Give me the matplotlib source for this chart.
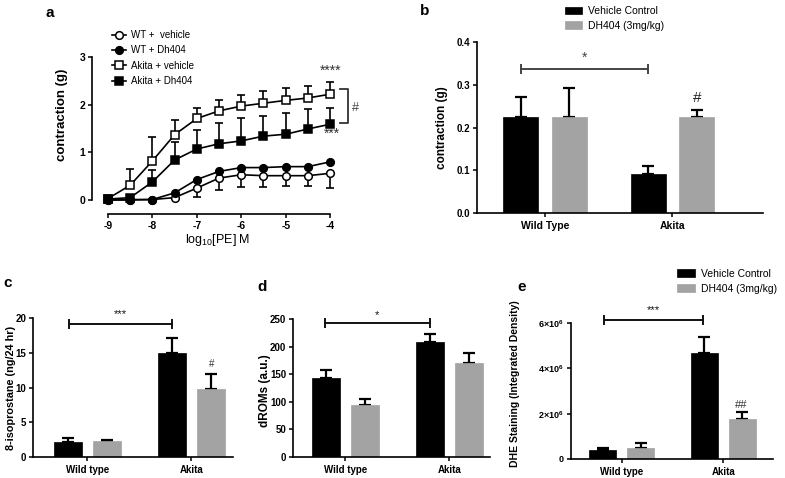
import matplotlib
matplotlib.use("Agg")
import matplotlib.pyplot as plt
import numpy as np

plt.rcParams["font.family"] = ["Liberation Sans", "DejaVu Sans"]
plt.rcParams["axes.unicode_minus"] = False
plt.rcParams["mathtext.fontset"] = "custom"
plt.rcParams["mathtext.rm"] = "Liberation Sans"
plt.rcParams["mathtext.bf"] = "Liberation Sans:bold"

# --- panel a: concentration-response curves ---
log_pe = [-9, -8.5, -8, -7.5, -7, -6.5, -6, -5.5, -5, -4.5, -4]
wt_veh = [0.0, 0.0, 0.01, 0.05, 0.25, 0.46, 0.53, 0.51, 0.51, 0.51, 0.56]
wt_veh_err = [0.0, 0.0, 0.0, 0.02, 0.18, 0.25, 0.26, 0.23, 0.22, 0.22, 0.31]
wt_dh = [0.0, 0.01, 0.01, 0.15, 0.43, 0.6, 0.68, 0.68, 0.7, 0.7, 0.8]
akita_veh = [0.03, 0.31, 0.82, 1.37, 1.71, 1.87, 1.97, 2.03, 2.09, 2.14, 2.22]
akita_veh_err = [0.0, 0.34, 0.5, 0.31, 0.22, 0.23, 0.24, 0.26, 0.25, 0.26, 0.25]
akita_dh = [0.02, 0.05, 0.38, 0.84, 1.07, 1.18, 1.24, 1.34, 1.38, 1.49, 1.59]
akita_dh_err = [0.0, 0.0, 0.24, 0.38, 0.39, 0.43, 0.47, 0.42, 0.44, 0.41, 0.33]

# --- bar panels: [Wild type, Akita] ---
groups_b = ["Wild Type", "Akita"]
groups = ["Wild type", "Akita"]
b_vehicle = [0.225, 0.091]
b_vehicle_err = [0.047, 0.02]
b_dh404 = [0.224, 0.224]
b_dh404_err = [0.068, 0.017]

c_vehicle = [2.17, 14.9]
c_vehicle_err = [0.5, 2.2]
c_dh404 = [2.25, 9.83]
c_dh404_err = [0.25, 2.1]

d_vehicle = [144, 209]
d_vehicle_err = [13, 13]
d_dh404 = [95, 171]
d_dh404_err = [10, 17]

e_vehicle = [0.39e6, 4.68e6]
e_vehicle_err = [0.1e6, 0.7e6]
e_dh404 = [0.48e6, 1.76e6]
e_dh404_err = [0.23e6, 0.3e6]

BLACK = "#000000"
GRAY = "#a3a3a3"
W, H = 785, 478

fig = plt.figure(figsize=(W / 100, H / 100), dpi=100)


def px_axes(left, top, right, bottom):
    return fig.add_axes([left / W, 1 - bottom / H, (right - left) / W, (bottom - top) / H])


def ftext(x, y, s, **kw):
    kw.setdefault("ha", "center")
    kw.setdefault("va", "center")
    fig.text(x / W, 1 - y / H, s, **kw)


def style_axes(ax, fs=7):
    for side in ("top", "right"):
        ax.spines[side].set_visible(False)
    for side in ("left", "bottom"):
        ax.spines[side].set_linewidth(1.2)
    ax.tick_params(width=1.1, length=3, labelsize=fs, pad=2)
    for lab in ax.get_xticklabels() + ax.get_yticklabels():
        lab.set_fontweight("bold")


def bar_panel(ax, names, veh, veh_err, dh, dh_err, off, width, ylim, yticks, ytick_labels=None):
    x = np.arange(len(names))
    ax.bar(x - off, veh, width, color=BLACK, edgecolor=BLACK, linewidth=0.5, zorder=2)
    ax.bar(x + off, dh, width, color=GRAY, edgecolor=GRAY, linewidth=0.5, zorder=2)
    ax.errorbar(x - off, veh, yerr=[np.zeros(len(x)), veh_err], fmt="none", ecolor=BLACK,
                elinewidth=1.6, capsize=4, capthick=1.6, zorder=1)
    ax.errorbar(x + off, dh, yerr=[np.zeros(len(x)), dh_err], fmt="none", ecolor=BLACK,
                elinewidth=1.6, capsize=4, capthick=1.6, zorder=1)
    ax.set_ylim(*ylim)
    ax.set_yticks(yticks)
    if ytick_labels is not None:
        ax.set_yticklabels(ytick_labels)
    ax.set_xticks(x, names)
    style_axes(ax)
    ax.tick_params(axis="x", length=3, pad=3)
    return x


def bracket(ax, x1, x2, y, text, ty, color="#222222", fs=9):
    ax.plot([x1, x2], [y, y], color=color, lw=1.4, marker="|", markersize=7,
            markeredgewidth=1.4, clip_on=False)
    ax.text((x1 + x2) / 2, ty, text, ha="center", va="center", fontsize=fs, color=color)


# ================= panel a =================
axa = px_axes(92, 57, 379, 200)
series = [
    (wt_veh, [wt_veh_err, [0] * 11], "o", "white", "WT +  vehicle"),
    (wt_dh, None, "o", BLACK, "WT + Dh404"),
    (akita_veh, [[0] * 11, akita_veh_err], "s", "white", "Akita + vehicle"),
    (akita_dh, [[0] * 11, akita_dh_err], "s", BLACK, "Akita + Dh404"),
]
handles = []
for vals, err, mk, face, lab in series:
    if err is not None:
        axa.errorbar(log_pe, vals, yerr=err, fmt="none", ecolor=BLACK, elinewidth=1.2,
                     capsize=2.8, capthick=1.2, zorder=1, clip_on=False)
    h, = axa.plot(log_pe, vals, color=BLACK, lw=1.2, marker=mk, markersize=5.5,
                  markerfacecolor=face, markeredgecolor=BLACK, markeredgewidth=1.1,
                  label=lab, zorder=3, clip_on=False)
    handles.append(h)
axa.set_xlim(-9.36, -2.9)
axa.set_ylim(0, 3)
axa.set_xticks(log_pe[::2])
axa.set_yticks([0, 1, 2, 3])
axa.spines["bottom"].set_position(("outward", 10))
axa.spines["bottom"].set_bounds(-9, -4)
axa.spines["left"].set_bounds(0, 3)
style_axes(axa, fs=7.5)
axa.text(-4.0, 2.72, "****", ha="center", va="center", fontsize=10, color="#333333")
axa.text(-3.96, 1.38, "***", ha="center", va="center", fontsize=10, color="#333333")
axa.plot([-3.78, -3.6, -3.6, -3.78], [2.32, 2.32, 1.61, 1.61], color="#333333", lw=1.3, clip_on=False)
axa.text(-3.44, 1.92, "#", ha="center", va="center", fontsize=9, color="#444444")
axa.legend(handles=handles, loc="upper left", bbox_to_anchor=(112 / W, 1 - 30 / H),
           bbox_transform=fig.transFigure, frameon=False, fontsize=7, handlelength=1.4,
           handletextpad=0.6, labelspacing=0.55, borderpad=0, borderaxespad=0)
ftext(50, 13, "a", fontsize=11, fontweight="bold")
ftext(62, 115, "contraction (g)", rotation=90, fontsize=9.5, fontweight="bold")
ftext(218, 240, "log$_{10}$[PE] M", fontsize=9)

# ================= panel b =================
axb = px_axes(477, 42, 763, 213)
bar_panel(axb, groups_b, b_vehicle, b_vehicle_err, b_dh404, b_dh404_err, 0.19, 0.273,
          (0, 0.4), [0, 0.1, 0.2, 0.3, 0.4], ["0.0", "0.1", "0.2", "0.3", "0.4"])
axb.set_xlim(-0.533, 1.71)
axb.tick_params(axis="x", labelsize=7.5)
bracket(axb, -0.19, 0.81, 0.338, "*", 0.362, color="#444444", fs=10)
axb.text(1.19, 0.27, "#", ha="center", va="center", fontsize=11, color="#222222")
bh = axb.containers[:2]
axb.legend(bh, ["Vehicle Control", "DH404 (3mg/kg)"], loc="upper left",
           bbox_to_anchor=(565 / W, 1 - 6 / H), bbox_transform=fig.transFigure,
           frameon=False, fontsize=7.5, handlelength=1.65, handleheight=0.75,
           handletextpad=0.6, labelspacing=0.45, borderpad=0, borderaxespad=0)
ftext(425, 11, "b", fontsize=11, fontweight="bold")
ftext(442, 128, "contraction (g)", rotation=90, fontsize=8.5, fontweight="bold")

# ================= panel c =================
axc = px_axes(33, 318, 233, 457)
bar_panel(axc, groups, c_vehicle, c_vehicle_err, c_dh404, c_dh404_err, 0.1875, 0.27,
          (0, 20), [0, 5, 10, 15, 20])
axc.set_xlim(-0.524, 1.40)
bracket(axc, -0.18, 0.81, 19.2, "***", 20.6, color="#111111", fs=8)
axc.text(1.19, 13.4, "#", ha="center", va="center", fontsize=7, color="#333333")
ftext(8, 283, "c", fontsize=11, fontweight="bold")
ftext(11, 388, "8-isoprostane (ng/24 hr)", rotation=90, fontsize=7.8, fontweight="bold")

# ================= panel d =================
axd = px_axes(293, 319, 490, 457)
bar_panel(axd, groups, d_vehicle, d_vehicle_err, d_dh404, d_dh404_err, 0.1875, 0.27,
          (0, 250), [0, 50, 100, 150, 200, 250])
axd.set_xlim(-0.505, 1.39)
bracket(axd, -0.2, 0.81, 243, "*", 257, color="#111111", fs=8)
ftext(262, 287, "d", fontsize=11, fontweight="bold")
ftext(265, 391, "dROMs (a.u.)", rotation=90, fontsize=8.5, fontweight="bold")

# ================= panel e =================
axe = px_axes(571, 323, 773, 459)
bar_panel(axe, groups, e_vehicle, e_vehicle_err, e_dh404, e_dh404_err, 0.186, 0.265,
          (0, 6e6), [0, 2e6, 4e6, 6e6],
          ["0", "2×10$^{\\mathbf{6}}$", "4×10$^{\\mathbf{6}}$", "6×10$^{\\mathbf{6}}$"])
axe.set_xlim(-0.5, 1.49)
axe.tick_params(axis="y", labelsize=6.5)
bracket(axe, -0.17, 0.8, 6.15e6, "***", 6.55e6, color="#111111", fs=8)
axe.text(1.18, 2.38e6, "##", ha="center", va="center", fontsize=8, color="#333333")
eh = axe.containers[:2]
axe.legend(eh, ["Vehicle Control", "DH404 (3mg/kg)"], loc="upper left",
           bbox_to_anchor=(677 / W, 1 - 269 / H), bbox_transform=fig.transFigure,
           frameon=False, fontsize=7.5, handlelength=1.7, handleheight=0.8,
           handletextpad=0.6, labelspacing=0.45, borderpad=0, borderaxespad=0)
ftext(522, 287, "e", fontsize=11, fontweight="bold")
ftext(515, 384, "DHE Staining (Integrated Density)", rotation=90, fontsize=7.5, fontweight="bold")

fig.savefig("out.png", dpi=100)
